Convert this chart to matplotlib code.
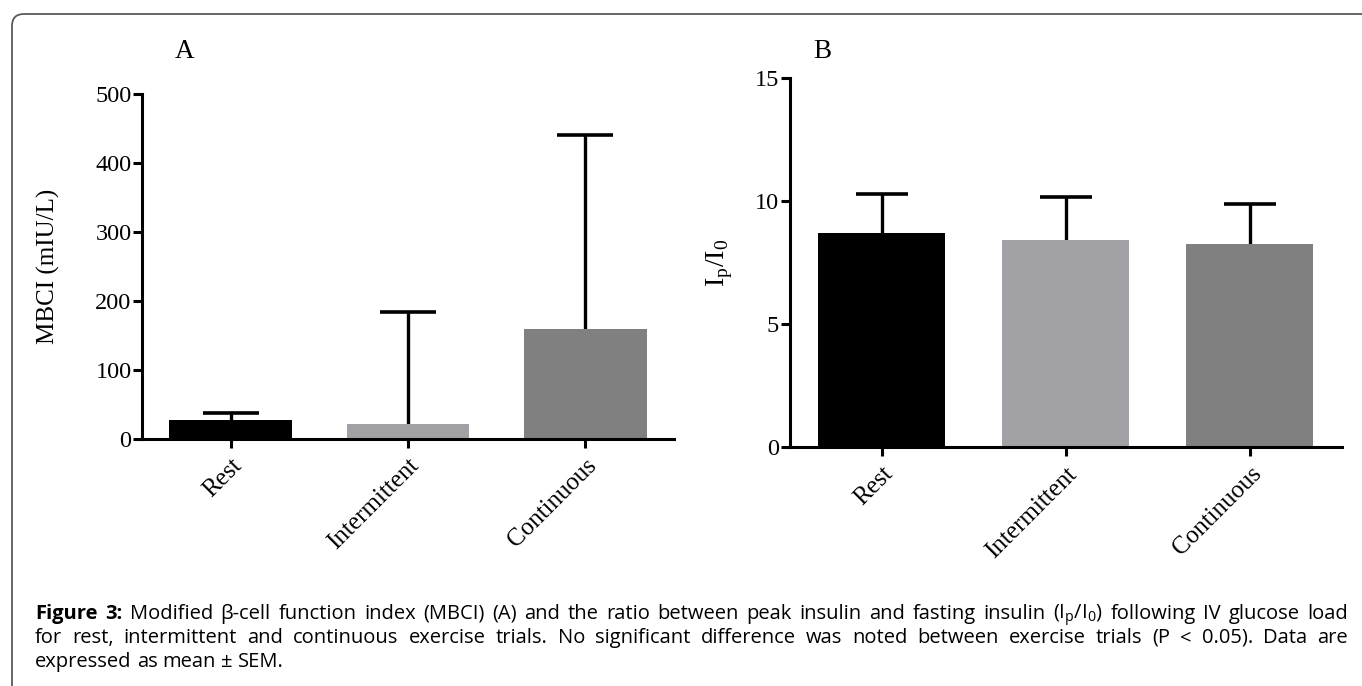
#!/usr/bin/env python3
"""
Figure 3: MBCI (A) and Ip/I0 ratio (B) for rest / intermittent / continuous trials.
Bars = mean, upper error bar = SEM. Saves out.png.
"""

import numpy as np
import matplotlib
matplotlib.use("Agg")
import matplotlib.pyplot as plt
from matplotlib.patches import FancyBboxPatch
from matplotlib.transforms import IdentityTransform

W_PX, H_PX = 1362, 686
SERIF = "Liberation Serif"
SANS = "Open Sans"
TICK_SIZE = 17.5

plt.rcParams["mathtext.fontset"] = "custom"
plt.rcParams["mathtext.rm"] = SERIF
plt.rcParams["mathtext.sf"] = SANS

# ── Data ───────────────────────────────────────────────────────────────────────
trials     = ["Rest", "Intermittent", "Continuous"]
bar_colors = ["#000000", "#a2a2a6", "#808080"]

mbci_mean = [26.5, 21.7, 159.5]
mbci_sem  = [10.5, 162.5, 281.0]

ratio_mean = [8.70, 8.41, 8.23]
ratio_sem  = [1.59, 1.76, 1.66]


def px_axes(fig, left, top, right, bottom):
    """Add axes from pixel edges (origin top-left)."""
    return fig.add_axes([left / W_PX, 1 - bottom / H_PX,
                         (right - left) / W_PX, (bottom - top) / H_PX])


def draw_panel(ax, means, sems, ylim, yticks, ylabel, label_x, label_size, capsize):
    x = range(len(trials))
    ax.bar(x, means, width=0.69, color=bar_colors, zorder=2)
    eb = ax.errorbar(x, means, yerr=[[0] * len(sems), sems], fmt="none",
                     ecolor="black", elinewidth=2.4, capsize=capsize,
                     capthick=2.6, zorder=1)
    # Prism style: no cap at the bar top, only the upper one
    for cap in eb[1]:
        if np.allclose(cap.get_ydata(), means):
            cap.set_visible(False)
    ax.set_xlim(-0.5, 2.5)
    ax.set_ylim(*ylim)
    ax.set_yticks(yticks)
    ax.set_xticks(list(x))
    ax.set_xticklabels(trials, rotation=45, ha="right", rotation_mode="anchor",
                       family=SERIF, fontsize=18)
    for lab in ax.get_yticklabels():
        lab.set_family(SERIF)
        lab.set_fontsize(TICK_SIZE)
    ax.tick_params(width=2.2, length=6.5, pad=1)
    ax.tick_params(axis="x", pad=5)
    for side in ("top", "right"):
        ax.spines[side].set_visible(False)
    for side in ("left", "bottom"):
        ax.spines[side].set_linewidth(2.2)
    ax.set_ylabel(ylabel, family=SERIF, fontsize=label_size)
    ax.yaxis.set_label_coords(label_x, 0.5)


fig = plt.figure(figsize=(W_PX / 100, H_PX / 100), dpi=100)

# outer rounded frame
fig.patches.append(FancyBboxPatch((12, -30), 1420, H_PX - 14 + 30,
                                  boxstyle="round,pad=0,rounding_size=12",
                                  transform=IdentityTransform(), figure=fig,
                                  fill=False, edgecolor="#5a5a5a", linewidth=1.3))

# ── Panel A ────────────────────────────────────────────────────────────────────
axA = px_axes(fig, 142, 93.6, 674, 438.6)
draw_panel(axA, mbci_mean, mbci_sem, (0, 500), [0, 100, 200, 300, 400, 500],
           "MBCI (mIU/L)", -0.155, 18, 20)
fig.text(185 / W_PX, 1 - 52 / H_PX, "A", family=SERIF, fontsize=19.5,
         ha="center", va="center")

# ── Panel B ────────────────────────────────────────────────────────────────────
axB = px_axes(fig, 789.6, 77.9, 1342, 447)
draw_panel(axB, ratio_mean, ratio_sem, (0, 15), [0, 5, 10, 15],
           r"I$_\mathrm{p}$/I$_0$", -0.099, 20, 19)
fig.text(822 / W_PX, 1 - 52 / H_PX, "B", family=SERIF, fontsize=19.5,
         ha="center", va="center")

# ── Caption (justified first two lines) ────────────────────────────────────────
CAP_SIZE = 14.5
cap_lines = [
    ("Figure 3:", r"Modified β-cell function index (MBCI) (A) and the ratio between peak insulin "
                  r"and fasting insulin (I$_\mathsf{p}$/I$_\mathsf{0}$) following IV glucose load"),
    ("", "for rest, intermittent and continuous exercise trials. No significant difference "
         "was noted between exercise trials (P < 0.05). Data are"),
    ("", "expressed as mean ± SEM."),
]
cap_baselines = [619, 643, 667]
X0, X1 = 35, 1348

renderer = fig.canvas.get_renderer()
for i, ((bold, rest), base) in enumerate(zip(cap_lines, cap_baselines)):
    words = [(w, "bold") for w in bold.split()] + [(w, "normal") for w in rest.split()]
    texts = [fig.text(0, 1 - base / H_PX, w, family=SANS, fontsize=CAP_SIZE,
                      weight=wt, va="baseline", ha="left") for w, wt in words]
    widths = [t.get_window_extent(renderer).width for t in texts]
    if i < 2:
        gap = (X1 - X0 - sum(widths)) / (len(texts) - 1)
    else:
        gap = 0.26 * CAP_SIZE * 100 / 72
    x = X0
    for t, w in zip(texts, widths):
        t.set_x(x / W_PX)
        x += w + gap

fig.savefig("out.png", dpi=100)
